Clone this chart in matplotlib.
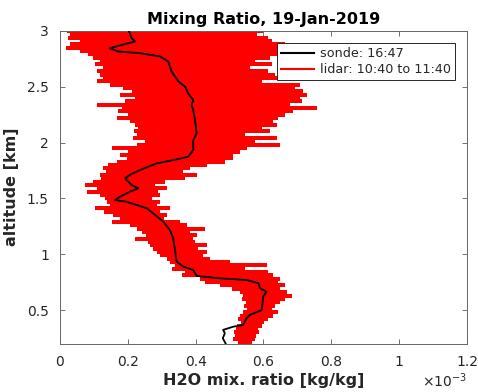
import numpy as np
import matplotlib
matplotlib.use("Agg")
import matplotlib.pyplot as plt
from matplotlib.lines import Line2D

# Radiosonde water vapour mixing ratio profile (units of 1e-3 kg/kg)
sonde_alt = [2.996, 2.936, 2.906, 2.846, 2.816, 2.801, 2.772, 2.727, 2.637, 2.548,
             2.500, 2.440, 2.380, 2.336, 2.291, 2.201, 2.082, 2.022, 1.933, 1.873,
             1.843, 1.814, 1.754, 1.710, 1.680, 1.620, 1.590, 1.560, 1.515, 1.485,
             1.470, 1.411, 1.366, 1.291, 1.216, 1.142, 1.037, 0.933, 0.888, 0.859,
             0.805, 0.784, 0.769, 0.740, 0.695, 0.664, 0.620, 0.500, 0.456, 0.426,
             0.366, 0.351, 0.322, 0.292, 0.247, 0.190]
sonde_mr = [0.204, 0.211, 0.221, 0.147, 0.172, 0.236, 0.295, 0.319, 0.329, 0.349,
            0.369, 0.378, 0.393, 0.388, 0.393, 0.398, 0.403, 0.393, 0.393, 0.378,
            0.334, 0.285, 0.236, 0.206, 0.192, 0.211, 0.231, 0.206, 0.177, 0.162,
            0.197, 0.256, 0.275, 0.305, 0.324, 0.334, 0.339, 0.344, 0.364, 0.393,
            0.403, 0.472, 0.550, 0.585, 0.590, 0.609, 0.599, 0.595, 0.560, 0.550,
            0.540, 0.511, 0.481, 0.486, 0.480, 0.490]

# Lidar range gates (km), from the top down, with lower/upper bounds (1e-3 kg/kg)
lidar_alt = np.round(np.arange(3.00, 0.20, -0.03), 2)
lidar_lo = [0.021, 0.029, 0.024, 0.059, 0.029, 0.018, 0.059, 0.083, 0.097, 0.118,
            0.103, 0.127, 0.109, 0.118, 0.127, 0.109, 0.147, 0.186, 0.212, 0.177,
            0.221, 0.192, 0.109, 0.183, 0.171, 0.200, 0.168, 0.206, 0.221, 0.230,
            0.218, 0.227, 0.215, 0.251, 0.227, 0.153, 0.200, 0.177, 0.198, 0.168,
            0.142, 0.127, 0.136, 0.118, 0.121, 0.097, 0.074, 0.109, 0.080, 0.118,
            0.133, 0.139, 0.147, 0.103, 0.130, 0.156, 0.177, 0.153, 0.206, 0.227,
            0.242, 0.254, 0.221, 0.259, 0.265, 0.274, 0.286, 0.295, 0.315, 0.324,
            0.339, 0.330, 0.369, 0.360, 0.413, 0.427, 0.472, 0.507, 0.531, 0.539,
            0.537, 0.548, 0.542, 0.551, 0.539, 0.531, 0.525, 0.534, 0.522, 0.519,
            0.513, 0.516, 0.510, 0.525]
lidar_hi = [0.598, 0.581, 0.613, 0.625, 0.663, 0.678, 0.663, 0.649, 0.619, 0.575,
            0.625, 0.560, 0.613, 0.634, 0.649, 0.595, 0.708, 0.693, 0.716, 0.728,
            0.708, 0.713, 0.678, 0.758, 0.687, 0.663, 0.643, 0.628, 0.640, 0.595,
            0.619, 0.545, 0.640, 0.575, 0.649, 0.551, 0.531, 0.510, 0.510, 0.486,
            0.433, 0.383, 0.363, 0.404, 0.369, 0.310, 0.280, 0.315, 0.289, 0.295,
            0.271, 0.295, 0.286, 0.324, 0.295, 0.315, 0.307, 0.354, 0.374, 0.427,
            0.383, 0.404, 0.392, 0.398, 0.433, 0.407, 0.433, 0.422, 0.442, 0.501,
            0.610, 0.545, 0.613, 0.628, 0.649, 0.643, 0.663, 0.649, 0.669, 0.684,
            0.663, 0.649, 0.634, 0.625, 0.643, 0.628, 0.613, 0.601, 0.595, 0.584,
            0.587, 0.578, 0.575, 0.566]

x_ticks = [0, 0.2, 0.4, 0.6, 0.8, 1.0, 1.2]
x_ticklabels = ["0", "0.2", "0.4", "0.6", "0.8", "1", "1.2"]
y_ticks = [0.5, 1.0, 1.5, 2.0, 2.5, 3.0]
y_ticklabels = ["0.5", "1", "1.5", "2", "2.5", "3"]

plt.rcParams["font.family"] = "DejaVu Sans"
txt = "0.15"

fig = plt.figure(figsize=(4.78, 3.92), dpi=100)
ax = fig.add_axes([0.1255, 0.1237, 0.8515, 0.7973])

lo = np.array(lidar_lo)
hi = np.array(lidar_hi)
mean = (lo + hi) / 2
err = (hi - lo) / 2

# lidar profile: horizontal error bars at each range gate
eb = ax.errorbar(mean, lidar_alt, xerr=err, fmt="none", ecolor="#ff0000",
                 elinewidth=2.6, capsize=0, zorder=2)
for coll in eb.lines[2]:
    coll.set_antialiased(False)
    coll.set_capstyle("butt")
ax.plot(sonde_mr, sonde_alt, color="black", lw=1.3, zorder=3)

ax.set_xlim(0, 1.2)
ax.set_ylim(0.2, 3.0)
ax.set_xticks(x_ticks)
ax.set_xticklabels(x_ticklabels)
ax.set_yticks(y_ticks)
ax.set_yticklabels(y_ticklabels)
ax.tick_params(direction="in", top=True, right=True, length=3.5, width=0.6,
               colors="0.35", labelcolor=txt, labelsize=10, pad=8)
for sp in ax.spines.values():
    sp.set_color("0.4")
    sp.set_linewidth(0.7)

ax.set_xlabel("H2O mix. ratio [kg/kg]", fontsize=11.5, fontweight="bold",
              color=txt, labelpad=3)
ax.set_ylabel("altitude [km]", fontsize=11.5, fontweight="bold", color=txt,
              labelpad=6)
ax.set_title("Mixing Ratio, 19-Jan-2019", fontsize=11.5, fontweight="bold",
             color="black", pad=5)
fig.text(0.977, 0.004, r"$\times10^{-3}$", ha="right", va="bottom",
         fontsize=10, color=txt)

handles = [Line2D([], [], color="black", lw=1.5),
           Line2D([], [], color="#ff0000", lw=1.5)]
labels = ["sonde: 16:47", "lidar: 10:40 to 11:40"]
leg = ax.legend(handles, labels,
                loc="upper right", bbox_to_anchor=(0.9705, 0.9616),
                borderaxespad=0, fancybox=False, framealpha=1,
                edgecolor="0.15", fontsize=9.2, handlelength=2.6,
                handletextpad=0.4, borderpad=0.35, labelspacing=0.2)
leg.get_frame().set_linewidth(0.7)
for t in leg.get_texts():
    t.set_color(txt)

fig.savefig("out.png", dpi=100)
